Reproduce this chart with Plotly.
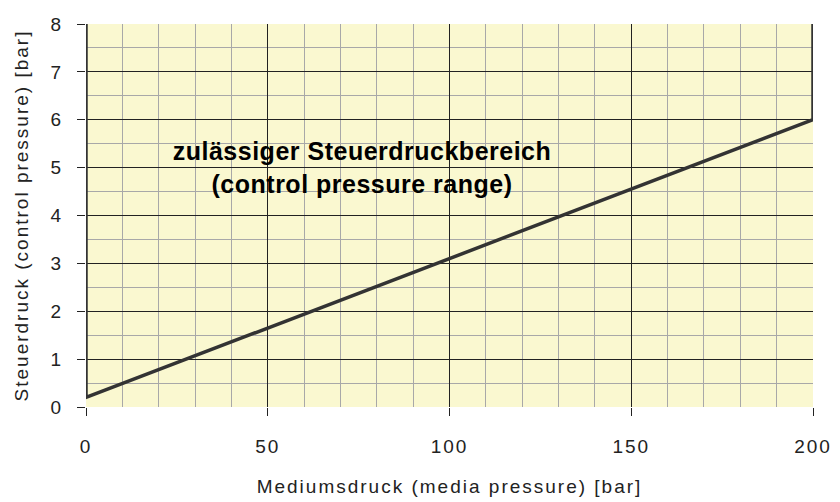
import plotly.graph_objects as go

# Data: boundary of the permissible control pressure range
media_pressure = [0, 0, 200, 200]
control_pressure = [8, 0.2, 6, 8]

x_ticks = [0, 50, 100, 150, 200]
y_ticks = [0, 1, 2, 3, 4, 5, 6, 7, 8]

label_lines = ["zulässiger Steuerdruckbereich", "(control pressure range)"]
label_pos = (76, 5.0)

x_title = "Mediumsdruck (media pressure) [bar]"
y_title = "Steuerdruck (control pressure) [bar]"

fig = go.Figure()
fig.add_trace(go.Scatter(
    x=media_pressure, y=control_pressure, mode="lines",
    line=dict(color="#333333", width=3.5), cliponaxis=False,
    hoverinfo="skip", showlegend=False,
))

fig.add_annotation(
    x=label_pos[0], y=label_pos[1], xref="x", yref="y",
    text="<br>".join(label_lines), showarrow=False,
    font=dict(family="Liberation Sans, Arial", size=25, color="#000000", weight="bold"),
    align="center",
)

tick_font = dict(family="Liberation Sans, Arial", size=19, color="#222222")
title_font = dict(family="Liberation Sans, Arial", size=19, color="#222222")

fig.update_xaxes(
    range=[0, 200], tickvals=x_ticks, ticks="outside", ticklen=8, tickcolor="#222222",
    showgrid=True, gridcolor="#222222", gridwidth=1,
    minor=dict(dtick=10, showgrid=True, gridcolor="#A8A8A8", gridwidth=1, ticks=""),
    zeroline=False, showline=False, tickfont=tick_font, ticklabelstandoff=14,
    automargin=False,
    title=dict(text=x_title, font=title_font, standoff=23),
)
fig.update_yaxes(
    range=[0, 8], tickvals=y_ticks, ticks="outside", ticklen=8, tickcolor="#222222",
    showgrid=True, gridcolor="#222222", gridwidth=1,
    minor=dict(dtick=0.5, showgrid=True, gridcolor="#A8A8A8", gridwidth=1, ticks=""),
    zeroline=False, showline=False, tickfont=tick_font, ticklabelstandoff=10,
    automargin=False,
    title=dict(text=y_title, font=title_font, standoff=18),
)

fig.update_layout(
    width=832, height=494,
    margin=dict(l=78, r=27, t=16, b=95),
    plot_bgcolor="#FAF8D0", paper_bgcolor="#FFFFFF",
)

# widen letter spacing as in the original (Excel-style rendering)
post = """
var gd = document.getElementById('{plot_id}');
gd.querySelectorAll('text.xtitle, text.ytitle').forEach(function(t){t.style.letterSpacing='2px';});
gd.querySelectorAll('.xtick text, .ytick text').forEach(function(t){t.style.letterSpacing='2px';});
gd.querySelectorAll('text.annotation-text').forEach(function(t){t.style.letterSpacing='0.5px';});
"""

fig.write_html("out.html", post_script=post)
